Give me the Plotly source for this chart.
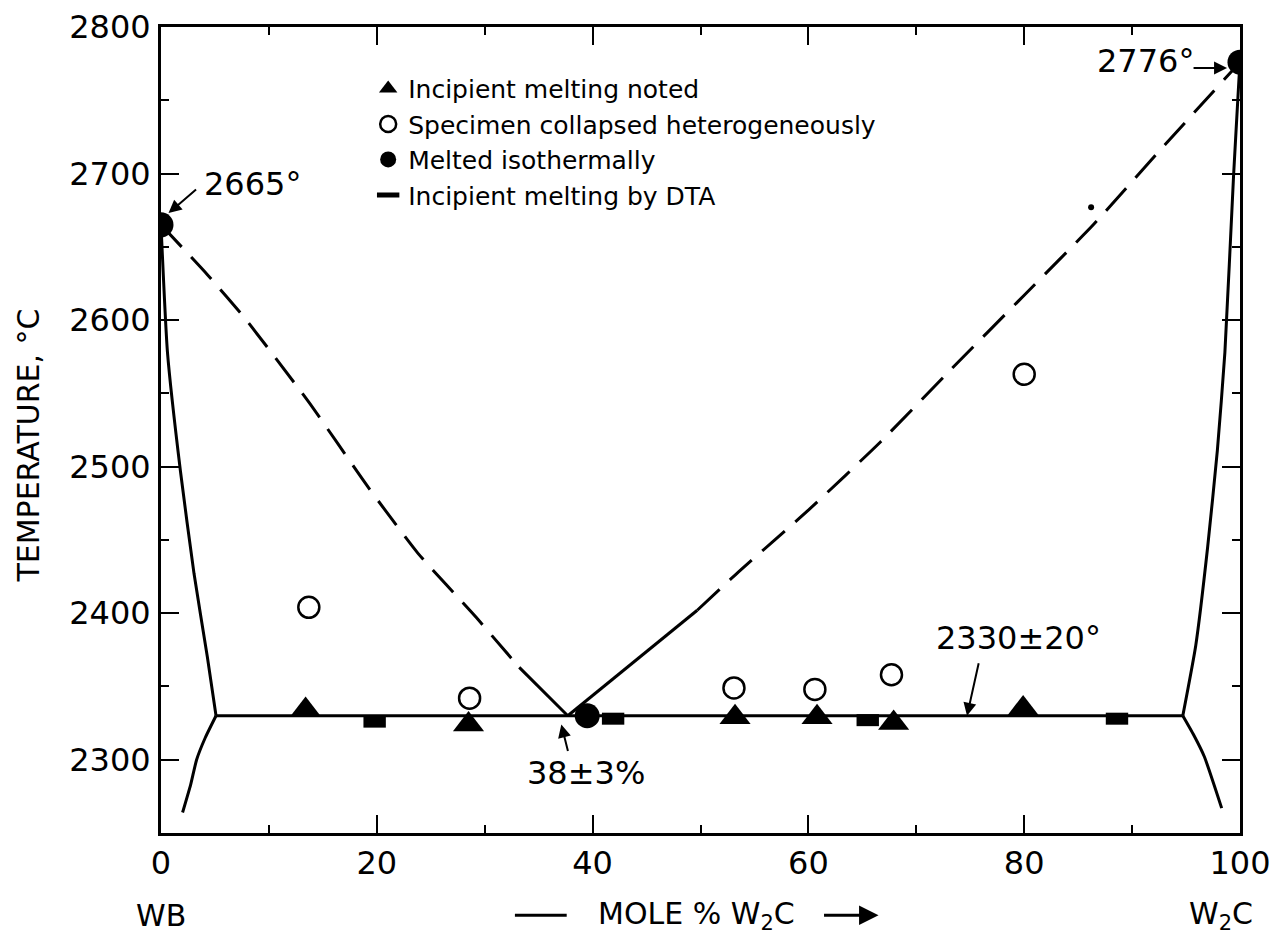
import plotly.graph_objects as go

# ---------------- data ----------------
tri_x = [13.4, 28.5, 53.2, 60.8, 67.9, 79.9]
tri_y = [2334, 2324, 2329, 2329, 2325, 2335]

open_x = [13.7, 28.6, 53.1, 60.6, 67.7, 80.0]
open_y = [2404, 2342, 2349, 2348, 2358, 2563]

fill_x = [0, 39.5, 100]
fill_y = [2665, 2330, 2776]

dta_x = [19.8, 41.9, 65.5, 88.6]
dta_y = [2326, 2328, 2327, 2328]

dot_x = [86.2]
dot_y = [2677]

# phase boundaries
eut_x = [5.1, 94.7]
eut_y = [2330, 2330]

lsol_x = [0, 0.6, 1.8, 3.06, 4.3, 5.1]
lsol_y = [2665, 2578, 2497, 2427, 2370, 2330]
llow_x = [5.1, 4.1, 3.3, 2.75, 2.0]
llow_y = [2330, 2315, 2300, 2283, 2264]

rsol_x = [100, 99.9, 99.4, 98.6, 97.9, 97.0, 95.9, 94.7]
rsol_y = [2776, 2764, 2698, 2578, 2511, 2445, 2378, 2330]
rlow_x = [94.7, 95.7, 96.7, 98.3]
rlow_y = [2330, 2317, 2302, 2267]

lliq_dash_x = [0, 4.3, 7.8, 13.7, 19.1, 23.8, 29.1, 33.2]
lliq_dash_y = [2665, 2631, 2601, 2544, 2487, 2441, 2398, 2363]
lliq_solid_x = [33.2, 37.7]
lliq_solid_y = [2363, 2330]

rliq_solid_x = [37.7, 49.7]
rliq_solid_y = [2330, 2402]
rliq_dash_x = [49.7, 53.5, 60.1, 66.7, 73.3, 80.0, 86.4, 92.6, 100]
rliq_dash_y = [2402, 2428, 2471, 2517, 2567, 2617, 2665, 2716, 2776]

x_ticks = [0, 20, 40, 60, 80, 100]
y_ticks = [2300, 2400, 2500, 2600, 2700, 2800]

FONT = "DejaVu Sans"
fig = go.Figure()

solid = dict(color="black", width=3)
dashed = dict(color="black", width=3, dash="30px,14px")
for xs, ys, ln in [
    (eut_x, eut_y, solid), (lsol_x, lsol_y, solid), (llow_x, llow_y, solid),
    (rsol_x, rsol_y, solid), (rlow_x, rlow_y, solid),
    (lliq_dash_x, lliq_dash_y, dashed), (lliq_solid_x, lliq_solid_y, solid),
    (rliq_solid_x, rliq_solid_y, solid), (rliq_dash_x, rliq_dash_y, dashed),
]:
    fig.add_trace(go.Scatter(x=xs, y=ys, mode="lines", line=dict(ln, shape="spline", smoothing=0.5),
                             showlegend=False, hoverinfo="skip"))

fig.add_trace(go.Scatter(x=tri_x, y=tri_y, mode="markers", name="Incipient melting noted",
                         marker=dict(symbol="triangle-up", size=27, color="black")))
fig.add_trace(go.Scatter(x=open_x, y=open_y, mode="markers", name="Specimen collapsed heterogeneously",
                         marker=dict(symbol="circle-open", size=21, color="black",
                                     line=dict(width=2.5, color="black"))))
fig.add_trace(go.Scatter(x=fill_x, y=fill_y, mode="markers", name="Melted isothermally",
                         marker=dict(symbol="circle", size=25, color="black")))
fig.add_trace(go.Scatter(x=dta_x, y=dta_y, mode="markers", name="Incipient melting by DTA",
                         marker=dict(symbol="line-ew", size=16, color="black",
                                     line=dict(width=12, color="black"))))
fig.add_trace(go.Scatter(x=dot_x, y=dot_y, mode="markers", showlegend=False,
                         marker=dict(symbol="circle", size=6, color="black")))

ann = []
def txt(x, y, s, size=32, xref="x", yref="y", **kw):
    ann.append(dict(x=x, y=y, xref=xref, yref=yref, text=s, showarrow=False,
                    xanchor="center", yanchor="middle",
                    font=dict(family=FONT, size=size, color="black"), **kw))

def arrow(x, y, ax, ay, xref="x", yref="y", width=2):
    ann.append(dict(x=x, y=y, xref=xref, yref=yref, text="", showarrow=True,
                    ax=ax, ay=ay, axref="pixel", ayref="pixel",
                    arrowhead=2, arrowsize=1.3, arrowwidth=width, arrowcolor="black"))

txt(8.5, 2693, "2665°")
arrow(0.7, 2673, 29, -25)
txt(91.2, 2777, "2776°")
arrow(98.8, 2772, -35, 0)
txt(39.4, 2291, "38±3%")
arrow(37.1, 2324, 7, 28)
txt(79.5, 2383, "2330±20°")
arrow(74.7, 2330, 12, -54)

txt(0, -0.102, "WB", size=30, yref="paper")
txt(98.2, -0.102, "W<sub>2</sub>C", size=30, yref="paper")
txt(49.6, -0.102, "MOLE % W<sub>2</sub>C", size=30, yref="paper")
txt(-0.123, 0.481, "TEMPERATURE, °C", size=30, xref="paper", yref="paper", textangle=-90)

# arrow after the axis caption
arrow(0.665, -0.102, -56, 0, xref="paper", yref="paper", width=3)

fig.update_layout(
    width=1269, height=935,
    margin=dict(l=153, r=37, t=19, b=110, autoexpand=False),
    paper_bgcolor="white", plot_bgcolor="white",
    font=dict(family=FONT, color="black"),
    annotations=ann,
    shapes=[dict(type="line", xref="paper", yref="paper", x0=0.328, x1=0.376,
                 y0=-0.102, y1=-0.102, line=dict(color="black", width=3))],
    showlegend=True,
    legend=dict(x=0.192, y=0.952, xanchor="left", yanchor="top", bgcolor="rgba(0,0,0,0)",
                font=dict(family=FONT, size=25, color="black"), tracegroupgap=0),
    xaxis=dict(range=[0, 100], tickvals=x_ticks, showgrid=False, zeroline=False, automargin=False,
               showline=True, linewidth=3, linecolor="black", mirror="ticks",
               ticks="inside", ticklen=18, tickwidth=2, tickcolor="black",
               ticklabelstandoff=0, tickfont=dict(family=FONT, size=32),
               minor=dict(dtick=10, tick0=0, ticks="inside", ticklen=8, tickwidth=2, tickcolor="black")),
    yaxis=dict(range=[2250, 2800], tickvals=y_ticks, showgrid=False, zeroline=False, automargin=False,
               showline=True, linewidth=3, linecolor="black", mirror="ticks",
               ticks="inside", ticklen=18, tickwidth=2, tickcolor="black",
               ticklabelstandoff=1, tickfont=dict(family=FONT, size=32),
               minor=dict(dtick=50, tick0=2250, ticks="inside", ticklen=8, tickwidth=2, tickcolor="black")),
)

fig.write_html("out.html")
